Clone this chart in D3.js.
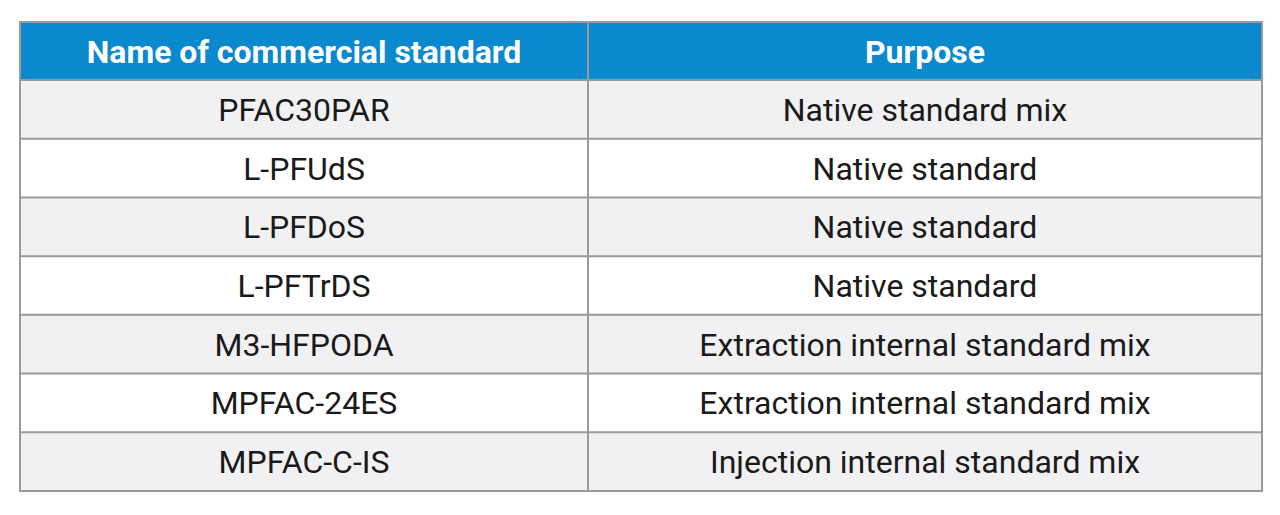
<!DOCTYPE html>
<html><head><meta charset="utf-8">
<script src="https://cdn.jsdelivr.net/npm/d3@7"></script>
<style>body{margin:0;background:#fff}</style>
</head><body>
<script>
var headers = ["Name of commercial standard", "Purpose"];
var names = ["PFAC30PAR", "L-PFUdS", "L-PFDoS", "L-PFTrDS", "M3-HFPODA", "MPFAC-24ES", "MPFAC-C-IS"];
var purposes = ["Native standard mix", "Native standard", "Native standard", "Native standard",
  "Extraction internal standard mix", "Extraction internal standard mix", "Injection internal standard mix"];

var x0 = 20, x1 = 1262, y0 = 22, headH = 58, y1 = 491, divX = 588;
var svg = d3.select("body").append("svg").attr("width", 1280).attr("height", 515);

var y = d3.scaleBand().domain(d3.range(names.length)).range([y0 + headH, y1]);
var cols = [[x0, divX], [divX, x1]];

// header
svg.append("rect").attr("x", x0).attr("y", y0).attr("width", x1 - x0).attr("height", headH)
  .attr("fill", "#0a89cf");
headers.forEach(function(h, i) {
  svg.append("text").attr("x", (cols[i][0] + cols[i][1]) / 2).attr("y", y0 + headH / 2)
    .attr("dy", ".36em").attr("text-anchor", "middle")
    .attr("font-family", "Roboto").attr("font-weight", "bold").attr("font-size", 32)
    .attr("fill", "#fff").text(h);
});

// rows
var row = svg.selectAll("g.row").data(names).enter().append("g").attr("class", "row")
  .attr("transform", function(d, i) { return "translate(0," + y(i) + ")"; });
row.append("rect").attr("x", x0).attr("width", x1 - x0).attr("height", y.bandwidth())
  .attr("fill", function(d, i) { return i % 2 ? "#fff" : "#f1f1f3"; });
row.append("text").attr("x", (x0 + divX) / 2).attr("y", y.bandwidth() / 2).attr("dy", ".36em")
  .attr("text-anchor", "middle").attr("font-family", "Roboto").attr("font-size", 32).attr("fill", "#1a1a1a")
  .text(function(d) { return d; });
row.append("text").attr("x", (divX + x1) / 2).attr("y", y.bandwidth() / 2).attr("dy", ".36em")
  .attr("text-anchor", "middle").attr("font-family", "Roboto").attr("font-size", 32).attr("fill", "#1a1a1a")
  .text(function(d, i) { return purposes[i]; });

// grid lines
var g = "#9a9a9a";
d3.range(names.length).forEach(function(i) {
  svg.append("line").attr("x1", x0).attr("x2", x1).attr("y1", y(i)).attr("y2", y(i))
    .attr("stroke", g).attr("stroke-width", 2);
});
svg.append("line").attr("x1", divX).attr("x2", divX).attr("y1", y0).attr("y2", y1)
  .attr("stroke", g).attr("stroke-width", 2);
svg.append("rect").attr("x", x0).attr("y", y0).attr("width", x1 - x0).attr("height", y1 - y0)
  .attr("fill", "none").attr("stroke", g).attr("stroke-width", 2);
</script>
</body></html>
